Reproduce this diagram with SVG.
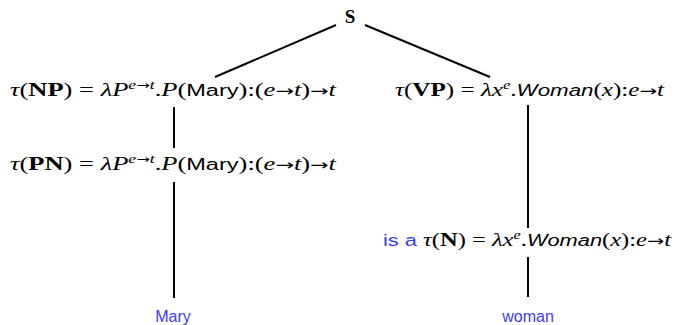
<svg xmlns="http://www.w3.org/2000/svg" width="675" height="325" viewBox="0 0 675 325">
<style>
.m{font-family:"Liberation Serif","DejaVu Serif",serif;font-size:18px;fill:#000}
.i{font-style:italic}
.b{font-weight:bold}
.a{font-family:"DejaVu Sans",sans-serif;font-size:15px}
.s{font-family:"Liberation Sans","DejaVu Sans",sans-serif;font-size:16px}
.sup{font-size:12px}
.supa{font-family:"DejaVu Sans",sans-serif;font-size:11px}
.blue{font-family:"Liberation Sans","DejaVu Sans",sans-serif;font-size:16px;fill:#3b3bff}
.e{stroke:#000;stroke-width:2;fill:none}
</style>
<rect width="675" height="325" fill="#fff"/>
<g id="connectors">
<line class="e" x1="336" y1="25" x2="215" y2="77"/>
<line class="e" x1="365" y1="25" x2="490" y2="77"/>
<line class="e" x1="174" y1="107" x2="174" y2="148"/>
<line class="e" x1="174" y1="182" x2="174" y2="298"/>
<line class="e" x1="528" y1="105" x2="528" y2="228"/>
<line class="e" x1="528" y1="257" x2="528" y2="297"/>
</g>
<g id="S"><text class="m b" x="350" y="23" text-anchor="middle" style="font-size:19px">S</text></g>
<g id="NP"><text class="m" x="10" y="96" textLength="326" lengthAdjust="spacingAndGlyphs"><tspan class="i">τ</tspan>(<tspan class="b">NP</tspan>) = <tspan class="i">λP</tspan><tspan class="sup i" dy="-7">e</tspan><tspan class="supa">→</tspan><tspan class="sup i">t</tspan><tspan dy="7">.</tspan><tspan class="i">P</tspan>(<tspan class="s">Mary</tspan>):(<tspan class="i">e</tspan><tspan class="a">→</tspan><tspan class="i">t</tspan>)<tspan class="a">→</tspan><tspan class="i">t</tspan></text></g>
<g id="PN"><text class="m" x="10" y="170" textLength="326" lengthAdjust="spacingAndGlyphs"><tspan class="i">τ</tspan>(<tspan class="b">PN</tspan>) = <tspan class="i">λP</tspan><tspan class="sup i" dy="-7">e</tspan><tspan class="supa">→</tspan><tspan class="sup i">t</tspan><tspan dy="7">.</tspan><tspan class="i">P</tspan>(<tspan class="s">Mary</tspan>):(<tspan class="i">e</tspan><tspan class="a">→</tspan><tspan class="i">t</tspan>)<tspan class="a">→</tspan><tspan class="i">t</tspan></text></g>
<g id="VP"><text class="m" x="395" y="96" textLength="269" lengthAdjust="spacingAndGlyphs"><tspan class="i">τ</tspan>(<tspan class="b">VP</tspan>) = <tspan class="i">λx</tspan><tspan class="sup i" dy="-7">e</tspan><tspan dy="7">.</tspan><tspan class="s i">Woman</tspan>(<tspan class="i">x</tspan>):<tspan class="i">e</tspan><tspan class="a">→</tspan><tspan class="i">t</tspan></text></g>
<g id="N"><text class="m" x="383" y="246" textLength="288" lengthAdjust="spacingAndGlyphs"><tspan class="blue">is a </tspan><tspan class="i">τ</tspan>(<tspan class="b">N</tspan>) = <tspan class="i">λx</tspan><tspan class="sup i" dy="-7">e</tspan><tspan dy="7">.</tspan><tspan class="s i">Woman</tspan>(<tspan class="i">x</tspan>):<tspan class="i">e</tspan><tspan class="a">→</tspan><tspan class="i">t</tspan></text></g>
<g id="Mary"><text class="blue" x="173" y="322" text-anchor="middle">Mary</text></g>
<g id="woman"><text class="blue" x="528" y="322" text-anchor="middle">woman</text></g>
</svg>
